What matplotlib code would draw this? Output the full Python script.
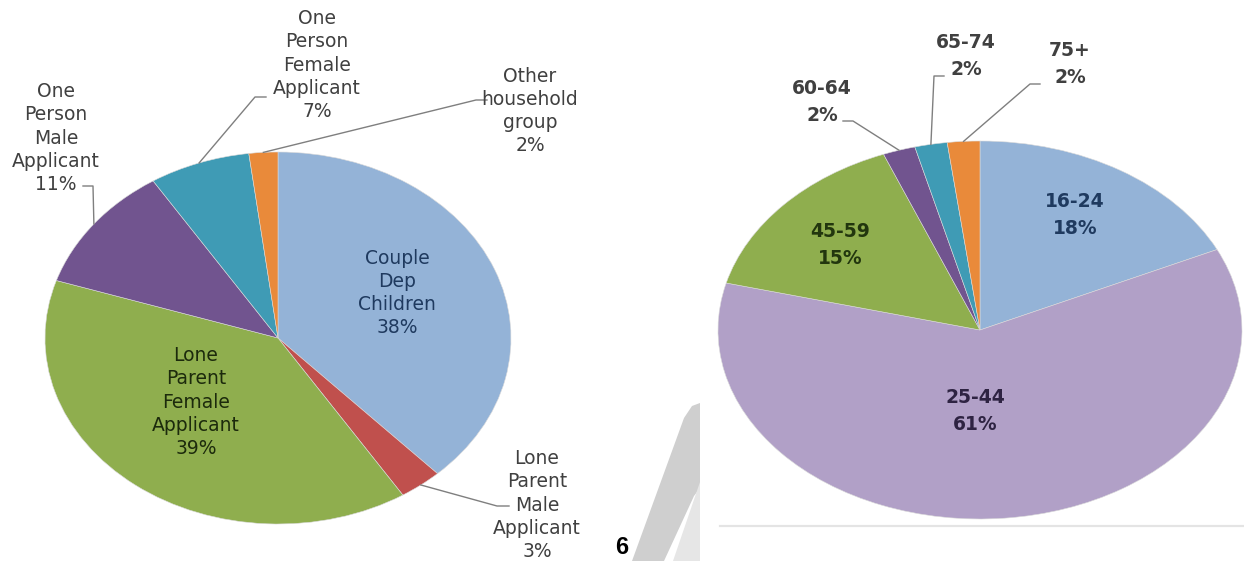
import numpy as np
import matplotlib
matplotlib.use("Agg")
import matplotlib.pyplot as plt
from matplotlib.patches import Polygon

# ---------------- data ----------------
hh_labels = ["Couple\nDep\nChildren", "Lone\nParent\nMale\nApplicant", "Lone\nParent\nFemale\nApplicant",
             "One\nPerson\nMale\nApplicant", "One\nPerson\nFemale\nApplicant", "Other\nhousehold\ngroup"]
hh_values = [38, 3, 39, 11, 7, 2]
hh_colors = ["#94B3D7", "#C0504D", "#8FAE4E", "#71548F", "#3F9BB5", "#E98A3A"]

age_labels = ["16-24", "25-44", "45-59", "60-64", "65-74", "75+"]
age_values = [18, 61, 15, 2, 2, 2]
age_colors = ["#94B3D7", "#B1A0C7", "#8FAE4E", "#71548F", "#3F9BB5", "#E98A3A"]

page_number = "6"

W, H = 1244, 561
fig = plt.figure(figsize=(W / 100, H / 100), dpi=100)
fig.patch.set_facecolor("white")

# overlay axes in pixel coordinates (for labels / leaders / decorations)
ov = fig.add_axes([0, 0, 1, 1], zorder=5)
ov.set_xlim(0, W)
ov.set_ylim(H, 0)
ov.axis("off")
ov.patch.set_alpha(0)

# pie geometry in pixels (ellipse centre and radii)
L = dict(cx=278, cy=338, rx=233, ry=186)
R = dict(cx=980, cy=330, rx=262, ry=189)


def pie_axes(g, values, colors):
    left = (g["cx"] - g["rx"]) / W
    bottom = (H - (g["cy"] + g["ry"])) / H
    ax = fig.add_axes([left, bottom, 2 * g["rx"] / W, 2 * g["ry"] / H], zorder=2)
    ax.pie(values, colors=colors, startangle=90, counterclock=False, radius=1,
           wedgeprops=dict(edgecolor="#DADADA", linewidth=0.4))
    ax.set_xlim(-1, 1)
    ax.set_ylim(-1, 1)
    ax.set_aspect("auto")
    ax.axis("off")
    return ax


pie_axes(L, hh_values, hh_colors)
pie_axes(R, age_values, age_colors)


def anchor(g, values, i):
    tot = float(sum(values))
    mid = sum(values[:i]) + values[i] / 2.0
    th = np.deg2rad(90 - 360 * mid / tot)
    return g["cx"] + g["rx"] * np.cos(th), g["cy"] - g["ry"] * np.sin(th)


def pct(v):
    return f"{v}%"


# ---------------- left pie labels ----------------
lf = dict(family="DejaVu Sans", fontsize=13.5, linespacing=1.27, ha="center", va="center")
line_col = "#7F7F7F"

# inside labels
ov.text(397, 293, hh_labels[0] + "\n" + pct(hh_values[0]), color="#1F3A5F", **lf)
ov.text(196, 402, hh_labels[2] + "\n" + pct(hh_values[2]), color="#1C2A0C", **lf)

# outside labels with leader lines: (index, text centre, elbow point, label end point)
left_out = [
    (1, (537, 505), (497, 506), (509, 506)),
    (3, (56, 138), (93, 186), (83, 186)),
    (4, (317, 65), (255, 97), (266, 97)),
    (5, (530, 111), (476, 100), (487, 100)),
]
for i, tpos, elbow, end in left_out:
    ov.text(tpos[0], tpos[1], hh_labels[i] + "\n" + pct(hh_values[i]), color="#404040", **lf)
    ax_, ay_ = anchor(L, hh_values, i)
    ov.plot([ax_, elbow[0], end[0]], [ay_, elbow[1], end[1]], color=line_col, lw=1.0)

# ---------------- right pie labels ----------------
rf = dict(family="DejaVu Sans", fontsize=13.5, fontweight="bold", linespacing=1.55,
          ha="center", va="center")
ov.text(1075, 215, age_labels[0] + "\n" + pct(age_values[0]), color="#1F3A5F", **rf)
ov.text(975, 411, age_labels[1] + "\n" + pct(age_values[1]), color="#2E2342", **rf)
ov.text(840, 245, age_labels[2] + "\n" + pct(age_values[2]), color="#22360E", **rf)

right_out = [
    (3, (822, 102), (853, 121), (843, 121)),
    (4, (966, 56), (934, 76), (944, 76)),
    (5, (1070, 64), (1030, 84), (1040, 84)),
]
for i, tpos, elbow, end in right_out:
    ov.text(tpos[0], tpos[1], age_labels[i] + "\n" + pct(age_values[i]), color="#404040", **rf)
    ax_, ay_ = anchor(R, age_values, i)
    ov.plot([ax_, elbow[0], end[0]], [ay_, elbow[1], end[1]], color=line_col, lw=1.0)

# ---------------- decorations ----------------
# light divider line under the right chart
ov.plot([720, 1244], [526, 526], color="#E4E4E4", lw=1.6)

# watermark swoosh
ov.add_patch(Polygon([(684, 418), (692, 406), (700, 403), (700, 488), (694, 496),
                      (664, 561), (632, 561)], closed=True, facecolor="#CFCFCF",
                     edgecolor="none"))
ov.add_patch(Polygon([(700, 482), (700, 561), (673, 561)], closed=True,
                     facecolor="#E6E6E6", edgecolor="none"))

# page number
ov.text(622, 547, page_number, family="Liberation Sans", fontweight="bold", fontsize=17,
        color="black", ha="center", va="center")

fig.savefig("out.png", dpi=100, facecolor="white")
